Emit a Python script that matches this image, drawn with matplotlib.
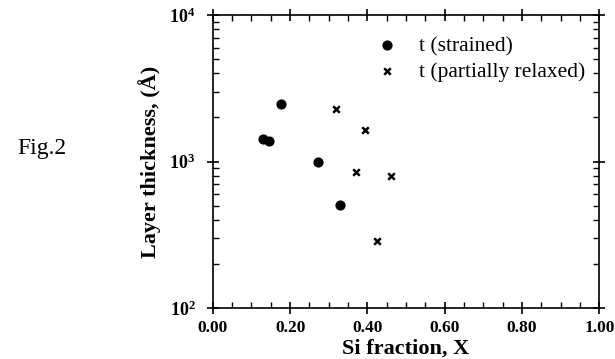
import matplotlib
matplotlib.use("Agg")
import matplotlib.pyplot as plt
from matplotlib.ticker import MultipleLocator, LogLocator, NullFormatter

plt.rcParams['font.family'] = ['Liberation Serif', 'DejaVu Serif']
plt.rcParams['mathtext.fontset'] = 'custom'
plt.rcParams['mathtext.rm'] = 'Liberation Serif'
plt.rcParams['mathtext.bf'] = 'Liberation Serif:bold'

strained_x = [0.177, 0.129, 0.146, 0.273, 0.329]
strained_t = [2480, 1420, 1380, 990, 507]
relaxed_x = [0.318, 0.394, 0.371, 0.460, 0.425]
relaxed_t = [2280, 1640, 847, 792, 287]

x_ticks = [0.0, 0.2, 0.4, 0.6, 0.8, 1.0]
x_ticklabels = ['0.00', '0.20', '0.40', '0.60', '0.80', '1.00']
y_ticks = [100, 1000, 10000]
y_ticklabels = [r'$\mathbf{10^2}$', r'$\mathbf{10^3}$', r'$\mathbf{10^4}$']

fig = plt.figure(figsize=(6.15, 3.59), dpi=100)
ax = fig.add_axes([0.346, 0.142, 0.6285, 0.816])

ax.scatter(strained_x, strained_t, marker='o', s=40, color='black', label='t (strained)', zorder=3)
ax.scatter(relaxed_x, relaxed_t, marker='x', s=22, color='black', linewidths=1.8, label='t (partially relaxed)', zorder=3)

ax.set_yscale('log')
ax.set_xlim(0, 1.0)
ax.set_ylim(100, 10000)
ax.set_xticks(x_ticks)
ax.set_xticklabels(x_ticklabels, fontsize=12.5, fontweight='bold')
ax.xaxis.set_minor_locator(MultipleLocator(0.05))
ax.set_yticks(y_ticks)
ax.set_yticklabels(y_ticklabels, fontsize=13)
ax.yaxis.set_minor_locator(LogLocator(base=10, subs=range(2, 10)))
ax.yaxis.set_minor_formatter(NullFormatter())

ax.tick_params(which='both', top=True, right=True, color='black')
ax.tick_params(which='major', direction='inout', length=9, width=1.2)
ax.tick_params(which='minor', direction='in', length=4, width=1.0)
ax.tick_params(axis='x', which='major', pad=4)
ax.tick_params(axis='y', which='major', pad=8)
for s in ax.spines.values():
    s.set_linewidth(1.2)

ax.set_xlabel('Si fraction, X', fontsize=16, fontweight='bold', labelpad=2)
ax.set_ylabel('Layer thickness, (Å)', fontsize=16, fontweight='bold', labelpad=6)

leg = ax.legend(loc='upper left', bbox_to_anchor=(0.372, 0.958), frameon=False, fontsize=15.5,
                handletextpad=0.5, labelspacing=0.27, scatterpoints=1, borderaxespad=0)

fig.text(0.029, 0.585, 'Fig.2', fontsize=17, va='center', ha='left')

fig.savefig('out.png', dpi=100)
